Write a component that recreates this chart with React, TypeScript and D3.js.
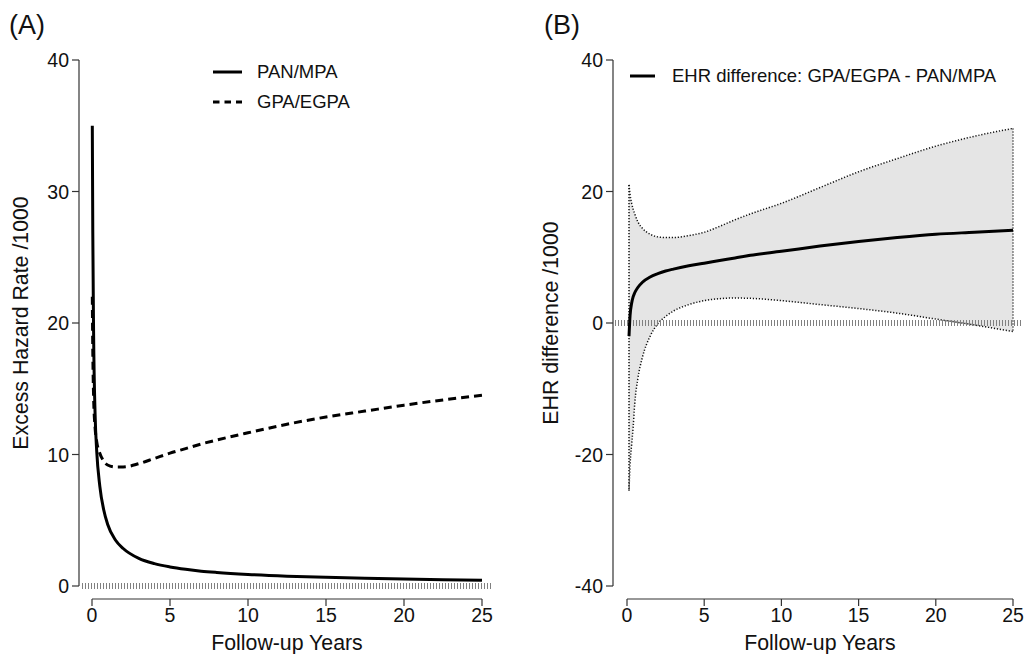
import React from "react";
import * as d3 from "d3";

// ---- Data ----
const yearsA = [0.02, 0.05, 0.1, 0.2, 0.3, 0.5, 0.75, 1, 1.5, 2, 3, 4, 5, 6, 7, 8, 10, 12.5, 15, 17.5, 20, 22.5, 25];
const panMpa = [35, 27, 19.5, 13, 10.3, 7.6, 5.8, 4.7, 3.5, 2.85, 2.1, 1.7, 1.45, 1.27, 1.13, 1.03, 0.88, 0.75, 0.66, 0.59, 0.53, 0.48, 0.43];
const gpaEgpa = [22, 18, 14.5, 12, 11, 10.1, 9.5, 9.2, 9.05, 9.05, 9.3, 9.7, 10.1, 10.45, 10.8, 11.1, 11.65, 12.3, 12.85, 13.3, 13.75, 14.15, 14.5];

const yearsB = [0.13, 0.2, 0.3, 0.4, 0.5, 0.7, 1, 1.5, 2, 2.5, 3, 4, 5, 6, 7, 8, 10, 12.5, 15, 17.5, 20, 22.5, 25];
const ehrDiff = [-2, 1.2, 3.0, 4.0, 4.6, 5.4, 6.2, 7.0, 7.5, 7.9, 8.2, 8.7, 9.1, 9.5, 9.9, 10.3, 10.9, 11.7, 12.4, 13.0, 13.5, 13.8, 14.1];
const ehrUpper = [21, 19.5, 18.2, 17.3, 16.6, 15.4, 14.4, 13.5, 13.1, 13.0, 13.0, 13.3, 13.8, 14.7, 15.7, 16.6, 18.2, 20.6, 23.0, 25.0, 26.9, 28.4, 29.6];
const ehrLower = [-25.5, -21.5, -18.5, -15.8, -12.3, -8.5, -5.2, -2.0, -0.1, 1.0, 1.8, 2.8, 3.4, 3.7, 3.8, 3.75, 3.4, 2.8, 2.2, 1.5, 0.6, -0.3, -1.3];

const xTicks = [0, 5, 10, 15, 20, 25];
const yTicksA = [0, 10, 20, 30, 40];
const yTicksB = [-40, -20, 0, 20, 40];

const FONT = "'Liberation Sans', Arial, Helvetica, sans-serif";

type Pt = [number, number];

function Axes({ x, y, xTickVals, yTickVals, axisX, axisY, yTitle, yTitleX, label, labelX }: any) {
  const [x0, x1] = x.range();
  const [yb, yt] = y.range();
  return (
    <g fontFamily={FONT} fill="#111">
      <line x1={axisX} x2={axisX} y1={yt} y2={yb} stroke="#333" strokeWidth={1.2} />
      {yTickVals.map((v: number) => (
        <g key={"y" + v}>
          <line x1={axisX - 7} x2={axisX} y1={y(v)} y2={y(v)} stroke="#333" strokeWidth={1.2} />
          <text x={axisX - 10} y={y(v)} dy="0.36em" textAnchor="end" fontSize={19.5}>
            {v}
          </text>
        </g>
      ))}
      <line x1={x0} x2={x1} y1={axisY} y2={axisY} stroke="#333" strokeWidth={1.2} />
      {xTickVals.map((v: number) => (
        <g key={"x" + v}>
          <line x1={x(v)} x2={x(v)} y1={axisY} y2={axisY + 7} stroke="#333" strokeWidth={1.2} />
          <text x={x(v)} y={622} textAnchor="middle" fontSize={19.5}>
            {v}
          </text>
        </g>
      ))}
      <text x={(x0 + x1) / 2} y={650} textAnchor="middle" fontSize={21.3}>
        Follow-up Years
      </text>
      <text
        transform={`translate(${yTitleX},${(yb + yt) / 2}) rotate(-90)`}
        textAnchor="middle"
        dy="0.35em"
        fontSize={21.3}
      >
        {yTitle}
      </text>
      <text x={labelX} y={34} fontSize={27}>
        {label}
      </text>
    </g>
  );
}

export default function App() {
  const xA = d3.scaleLinear().domain([0, 25]).range([92, 482]);
  const yA = d3.scaleLinear().domain([0, 40]).range([586, 60]);
  const xB = d3.scaleLinear().domain([0, 25]).range([627, 1013]);
  const yB = d3.scaleLinear().domain([-40, 40]).range([586, 60]);

  const lineA = d3
    .line<Pt>()
    .x((d) => xA(d[0]))
    .y((d) => yA(d[1]))
    .curve(d3.curveMonotoneX);
  const lineB = d3
    .line<Pt>()
    .x((d) => xB(d[0]))
    .y((d) => yB(d[1]))
    .curve(d3.curveMonotoneX);

  const panPts: Pt[] = yearsA.map((t, i) => [t, panMpa[i]]);
  const gpaPts: Pt[] = yearsA.map((t, i) => [t, gpaEgpa[i]]);
  const diffPts: Pt[] = yearsB.map((t, i) => [t, ehrDiff[i]]);

  const band = d3
    .area<number>()
    .x((_, i) => xB(yearsB[i]))
    .y0((_, i) => yB(ehrLower[i]))
    .y1((_, i) => yB(ehrUpper[i]))
    .curve(d3.curveMonotoneX);

  const upperPts: Pt[] = yearsB.map((t, i) => [t, ehrUpper[i]]);
  const lowerPts: Pt[] = yearsB.map((t, i) => [t, ehrLower[i]]);
  const last = yearsB.length - 1;

  return (
    <svg width={1024} height={654} style={{ position: "absolute", left: 0, top: 0, background: "#fff" }}>
      <rect x={0} y={0} width={1024} height={654} fill="#fff" />

      {/* Panel A */}
      <Axes
        x={xA}
        y={yA}
        xTickVals={xTicks}
        yTickVals={yTicksA}
        axisX={79}
        axisY={599}
        yTitle="Excess Hazard Rate /1000"
        yTitleX={21}
        label="(A)"
        labelX={9}
      />
      <line x1={82} x2={493} y1={yA(0)} y2={yA(0)} stroke="#808080" strokeWidth={6} strokeDasharray="1 2" />
      <path d={lineA(gpaPts) || ""} fill="none" stroke="#000" strokeWidth={3} strokeDasharray="8 5" />
      <path d={lineA(panPts) || ""} fill="none" stroke="#000" strokeWidth={3} />

      <g fontFamily={FONT} fontSize={18.5} fill="#111">
        <line x1={213} x2={242} y1={72} y2={72} stroke="#000" strokeWidth={3} />
        <text x={257} y={72} dy="0.35em">PAN/MPA</text>
        <line x1={213} x2={242} y1={102} y2={102} stroke="#000" strokeWidth={3} strokeDasharray="6.5 5" />
        <text x={257} y={102} dy="0.35em">GPA/EGPA</text>
      </g>

      {/* Panel B */}
      <Axes
        x={xB}
        y={yB}
        xTickVals={xTicks}
        yTickVals={yTicksB}
        axisX={613}
        axisY={599}
        yTitle="EHR difference /1000"
        yTitleX={551}
        label="(B)"
        labelX={544}
      />
      <path d={band(yearsB) || ""} fill="#e5e5e5" stroke="none" />
      <g fill="none" stroke="#111" strokeWidth={1.5} strokeDasharray="1.2 1.8">
        <path d={lineB(upperPts) || ""} />
        <path d={lineB(lowerPts) || ""} />
        <line x1={xB(yearsB[0])} x2={xB(yearsB[0])} y1={yB(ehrUpper[0])} y2={yB(ehrLower[0])} />
        <line x1={xB(yearsB[last])} x2={xB(yearsB[last])} y1={yB(ehrUpper[last])} y2={yB(ehrLower[last])} />
      </g>
      <line x1={615} x2={1022} y1={yB(0)} y2={yB(0)} stroke="#808080" strokeWidth={6} strokeDasharray="1 2" />
      <path d={lineB(diffPts) || ""} fill="none" stroke="#000" strokeWidth={3} />

      <g fontFamily={FONT} fontSize={18.5} fill="#111">
        <line x1={630} x2={655} y1={76} y2={76} stroke="#000" strokeWidth={3} />
        <text x={672} y={76} dy="0.35em">EHR difference: GPA/EGPA - PAN/MPA</text>
      </g>
    </svg>
  );
}
